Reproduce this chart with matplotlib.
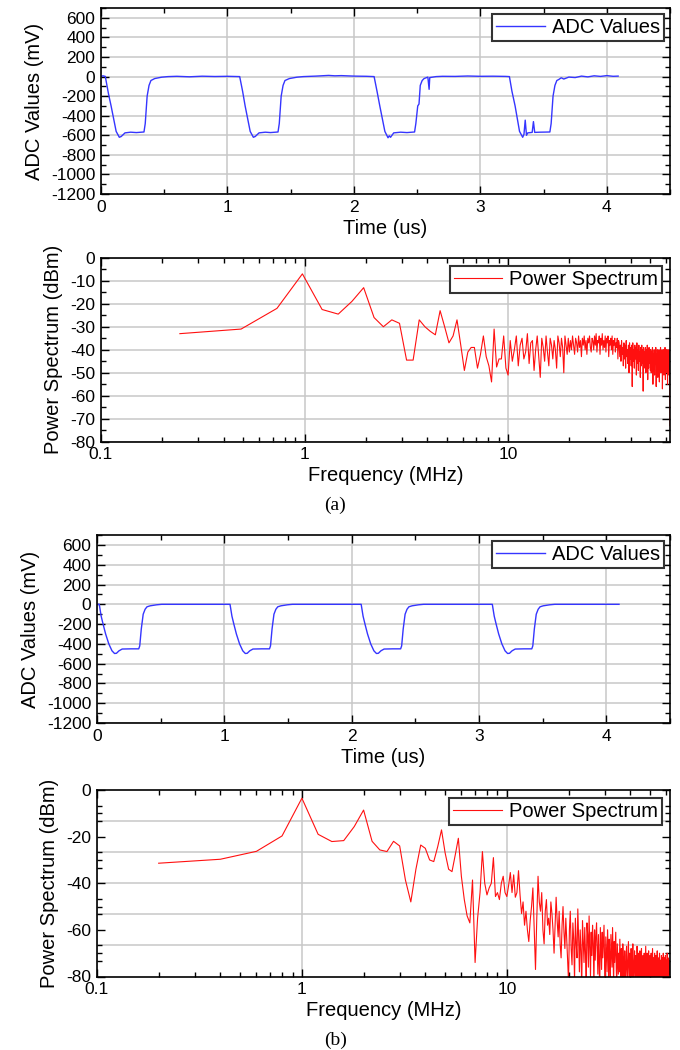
import numpy as np
import matplotlib.pyplot as plt
from matplotlib import ticker

plt.rcParams['font.family'] = ['Liberation Sans', 'DejaVu Sans']
plt.rcParams['axes.unicode_minus'] = False

# ---- (a) ADC trace, time in us, values in mV
t_a = [0.000, 0.015, 0.034, 0.060, 0.080, 0.120, 0.145, 0.160, 0.190, 0.235, 0.280, 0.340, 0.350, 0.365, 0.380, 0.395, 0.425, 0.480, 0.530,
       0.600, 0.700, 0.800, 0.900, 1.000, 1.097,
       1.120, 1.140, 1.180, 1.205, 1.220, 1.250, 1.300, 1.340, 1.400, 1.410, 1.425, 1.440, 1.455, 1.490, 1.550, 1.600,
       1.700, 1.800, 1.850, 1.900, 2.000, 2.100, 2.160,
       2.183, 2.205, 2.245, 2.270, 2.280, 2.290, 2.315, 2.370, 2.420, 2.480, 2.490, 2.505, 2.515, 2.525, 2.540, 2.555, 2.585, 2.595, 2.600, 2.650, 2.700,
       2.800, 2.900, 3.000, 3.100, 3.200, 3.230,
       3.250, 3.275, 3.310, 3.335, 3.345, 3.355, 3.365, 3.375, 3.410, 3.420, 3.430, 3.470, 3.550, 3.560, 3.575, 3.590, 3.605, 3.620, 3.640,
       3.660, 3.700, 3.750, 3.800, 3.850, 3.900, 3.950, 4.000, 4.050, 4.090]
adc_a = [0, 8, 2, -180, -300, -560, -620, -612, -575, -568, -572, -566, -480, -200, -90, -40, -20, -6, 0,
         3, -2, 4, 1, 3, 0,
         -150, -300, -560, -620, -612, -575, -568, -572, -566, -480, -200, -90, -40, -20, -6, 0,
         5, 12, 8, 10, 5, 3, 0,
         -150, -300, -560, -625, -605, -620, -575, -568, -572, -566, -480, -300, -280, -90, -40, -20, -5, -130, -10, 0, 3,
         2, 6, 3, 4, 2, 0,
         -150, -300, -560, -620, -590, -445, -600, -575, -570, -460, -570, -568, -566, -480, -200, -90, -40, -30, -12,
         -25, -5, -10, 5, -3, 8, 2, 10, 3, 5]

# ---- (a) power spectrum, dBm per FFT bin (bin width 0.2441 MHz)
df_a = 0.2441
psd_a = [-33, -31, -22, -7, -22.5, -24.5, -19, -13, -26, -30,
         -27, -28.5, -44.5, -44.5, -27, -30, -32, -33.5, -23, -30,
         -37, -34, -27, -38, -49, -41, -39, -39, -48, -42,
         -34, -43, -47, -54, -31, -47.5, -44, -44, -34, -48,
         -51,
         -36, -45, -40, -34, -47, -38, -35, -44, -41, -33,
         -46, -37, -36, -49, -40, -34, -43, -52, -35, -39,
         -45, -34, -41, -47, -35, -38, -44, -36, -40, -48,
         -34, -37, -43, -35, -39, -50, -34, -38, -42, -35,
         -41,
         -36, -40, -34, -38, -42, -35, -37, -41, -34, -39,
         -36, -43, -35, -38, -34, -40, -36, -42, -35, -37,
         -34, -39, -41, -35, -36, -40, -34, -38, -33, -41,
         -36, -37, -34, -42, -35, -38, -33, -40, -36, -39,
         -34, -41, -35, -37, -34, -43, -36, -38, -35, -40,
         -34, -42, -36, -38, -35, -41, -37, -39, -35, -44,
         -36,
         -37, -43, -38, -45, -36, -42, -39, -47, -37, -44,
         -38, -48, -36, -43, -40, -46, -38, -50, -37, -44,
         -39, -47, -38, -56, -37, -45, -40, -48, -38, -44,
         -39, -51, -37, -46, -40, -49, -38, -45, -41, -52,
         -39, -47, -38, -46, -40, -58, -39, -48, -41, -45,
         -39, -50, -40, -47, -38, -53, -41, -48, -39, -46,
         -40, -49,
         -40, -50, -41, -47, -39, -55, -42, -48, -40, -51,
         -41, -46, -39, -56, -42, -49, -40, -52, -41, -47,
         -40, -54, -42, -48, -39, -50, -41, -46, -40, -57,
         -42, -49, -40, -51, -41, -48, -39, -53, -42, -47,
         -40, -50, -41, -55, -40, -48, -42, -51, -40, -46,
         -73]

# ---- (b) ADC trace
t_b = [0.000,
       0.018, 0.033, 0.048, 0.068, 0.093, 0.118, 0.138, 0.153, 0.173, 0.198, 0.268, 0.328, 0.336, 0.348, 0.363, 0.378, 0.393, 0.418, 0.468, 0.508,
       1.045, 1.060, 1.075, 1.095, 1.120, 1.145, 1.165, 1.180, 1.200, 1.225, 1.295, 1.355, 1.363, 1.375, 1.390, 1.405, 1.420, 1.445, 1.495, 1.535,
       2.075, 2.090, 2.105, 2.125, 2.150, 2.175, 2.195, 2.210, 2.230, 2.255, 2.325, 2.385, 2.393, 2.405, 2.420, 2.435, 2.450, 2.475, 2.525, 2.565,
       3.105, 3.120, 3.135, 3.155, 3.180, 3.205, 3.225, 3.240, 3.260, 3.285, 3.355, 3.415, 3.423, 3.435, 3.450, 3.465, 3.480, 3.505, 3.555, 3.595,
       4.100]
adc_b = [0,
         0, -120, -200, -300, -400, -470, -497, -495, -470, -452, -450, -450, -420, -250, -100, -50, -25, -15, -5, 0,
         0, -120, -200, -300, -400, -470, -497, -495, -470, -452, -450, -450, -420, -250, -100, -50, -25, -15, -5, 0,
         0, -120, -200, -300, -400, -470, -497, -495, -470, -452, -450, -450, -420, -250, -100, -50, -25, -15, -5, 0,
         0, -120, -200, -300, -400, -470, -497, -495, -470, -452, -450, -450, -420, -250, -100, -50, -25, -15, -5, 0,
         0]

# ---- (b) power spectrum (bin width 0.2 MHz)
df_b = 0.2
psd_b = [-31.4, -29.7, -26.3, -19.7, -3.5, -19, -22.1, -21.7, -15.7, -8.6,
         -22, -25.7, -26.4, -22, -24, -38.6, -48, -34, -23.6, -25,
         -30, -30.7, -24.3, -17.1, -27, -34, -35, -27.9, -20.7, -37,
         -47, -54, -57, -38.6, -74, -55, -44, -26.4, -40, -45,
         -42, -40, -29, -45.7, -44, -47, -40, -37, -44, -45.7,
         -41, -35.4, -44, -36.4, -46, -44, -34.6, -45, -53, -48,
         -58, -52, -60, -65, -56, -50, -42, -60, -77, -55,
         -37, -48, -52, -44, -60, -66, -52, -47, -58, -55,
         -62, -48, -53, -60, -70, -58, -46, -56, -63, -52,
         -66, -72, -58, -50, -61, -68, -55, -64, -74, -82,
         -60, -52, -68, -75, -57, -64, -82, -55, -66, -72,
         -51, -63, -78, -60, -69, -85, -56, -65, -74, -59,
         -70, -83, -57, -62, -76, -54, -67, -80, -61, -71,
         -58, -66, -84, -60, -73, -63, -57, -69, -79, -62,
         -75, -86, -59, -68, -77, -61, -72, -65, -58, -74,
         -82, -63, -70, -78, -60, -67, -85, -64, -73, -80,
         -62, -69, -76, -59, -71, -83, -65, -74, -68, -61,
         -77, -84, -66, -72, -79,
         -70, -78, -64, -74, -85, -68, -76, -80, -66, -72, -83, -75, -69, -79, -86, -71, -67, -77, -82, -73,
         -65, -74, -84, -70, -78, -81, -68, -75, -87, -72, -66, -79, -83, -74, -69, -77, -85, -71, -76, -80,
         -67, -73, -84, -78, -70, -75, -82, -69, -77, -86, -72, -68, -79, -83, -74, -71, -76, -85, -70, -78,
         -81, -73, -67, -77, -84, -75, -70, -79, -82, -72, -69, -76, -86, -74, -71, -78, -83, -70, -75, -80,
         -73, -68, -77, -85, -72, -76, -81, -70, -74, -84, -78, -71, -75, -82, -73, -69, -79, -86, -72, -76,
         -80, -74, -70, -78, -83, -73, -77, -85, -71, -75, -81, -72, -79, -84, -70, -76, -82, -74, -72, -78,
         -85, -71, -75, -80, -73, -77, -83, -70, -76, -82, -72, -78, -81, -74, -73, -79, -77]

freq_a = np.arange(1, len(psd_a) + 1) * df_a
freq_b = np.arange(1, len(psd_b) + 1) * df_b

BLUE = '#3535ff'
RED = '#ff1010'
GRID = '#c8c8c8'
TICK_FS = 12.5
LABEL_FS = 14.5


def base_style(ax):
    for sp in ax.spines.values():
        sp.set_linewidth(1.2)
    ax.tick_params(which='both', direction='in', top=True, right=True,
                   labelsize=TICK_FS, width=1.0, pad=4)
    ax.tick_params(which='major', length=6)
    ax.tick_params(which='minor', length=3.5)
    ax.set_axisbelow(True)


def time_axes(ax, t, v):
    ax.plot(t, v, color=BLUE, lw=1.0, label='ADC Values')
    ax.set_xlim(0, 4.5)
    ax.set_ylim(-1200, 700)
    ax.xaxis.set_major_locator(ticker.MultipleLocator(1))
    ax.xaxis.set_minor_locator(ticker.MultipleLocator(0.5))
    ax.yaxis.set_major_locator(ticker.FixedLocator(np.arange(-1200, 601, 200)))
    ax.yaxis.set_minor_locator(ticker.MultipleLocator(100))
    ax.grid(True, which='major', color=GRID, lw=1.1)
    base_style(ax)
    ax.set_xlabel('Time (us)', fontsize=LABEL_FS, labelpad=3)
    ax.set_ylabel('ADC Values (mV)', fontsize=LABEL_FS, labelpad=5)
    leg = ax.legend(loc='upper right', fontsize=LABEL_FS, fancybox=False,
                    edgecolor='#333333', framealpha=1, borderpad=0.2,
                    handlelength=2.4, handletextpad=0.35, borderaxespad=0.3)
    leg.get_frame().set_linewidth(1.5)


def spec_axes(ax, f, p):
    ax.plot(f, p, color=RED, lw=0.8, label='Power Spectrum')
    ax.set_xscale('log')
    ax.set_xlim(0.1, 62.5)
    ax.set_ylim(-80, 0)
    ax.xaxis.set_major_locator(ticker.FixedLocator([0.1, 1, 10]))
    ax.xaxis.set_major_formatter(ticker.FormatStrFormatter('%g'))
    ax.xaxis.set_minor_locator(ticker.LogLocator(base=10, subs=np.arange(2, 10)))
    ax.xaxis.set_minor_formatter(ticker.NullFormatter())
    ax.grid(True, which='major', axis='x', color=GRID, lw=1.1)
    base_style(ax)
    ax.set_xlabel('Frequency (MHz)', fontsize=LABEL_FS, labelpad=3)
    ax.set_ylabel('Power Spectrum (dBm)', fontsize=LABEL_FS, labelpad=5)
    leg = ax.legend(loc='upper right', fontsize=LABEL_FS, fancybox=False,
                    edgecolor='#333333', framealpha=1, borderpad=0.2,
                    handlelength=2.4, handletextpad=0.35, borderaxespad=0.4)
    leg.get_frame().set_linewidth(1.5)


fig = plt.figure(figsize=(6.8, 10.5), dpi=100)

ax1 = fig.add_axes([0.1485, 0.8152, 0.8368, 0.1771])
time_axes(ax1, t_a, adc_a)

ax2 = fig.add_axes([0.1485, 0.5793, 0.8368, 0.1752])
spec_axes(ax2, freq_a, psd_a)
ax2.yaxis.set_major_locator(ticker.MultipleLocator(10))
ax2.yaxis.set_minor_locator(ticker.MultipleLocator(5))
ax2.grid(True, which='major', axis='y', color=GRID, lw=1.1)

ax3 = fig.add_axes([0.1426, 0.3114, 0.8426, 0.1790])
time_axes(ax3, t_b, adc_b)

ax4 = fig.add_axes([0.1426, 0.0700, 0.8426, 0.1776])
spec_axes(ax4, freq_b, psd_b)
ax4.yaxis.set_major_locator(ticker.MultipleLocator(20))
ax4.yaxis.set_minor_locator(ticker.FixedLocator(
    [-6.67, -10, -13.33, -26.67, -30, -33.33, -46.67, -50, -53.33, -66.67, -70, -73.33]))
for lev in [-13.33, -26.67, -40, -53.33, -66.67]:
    ax4.axhline(lev, color=GRID, lw=1.1, zorder=0.5)

fig.text(0.493, 0.519, '(a)', family=['Liberation Serif', 'DejaVu Serif'],
         fontsize=14, ha='center', va='center')
fig.text(0.493, 0.0095, '(b)', family=['Liberation Serif', 'DejaVu Serif'],
         fontsize=14, ha='center', va='center')

fig.savefig('out.png', dpi=100)
